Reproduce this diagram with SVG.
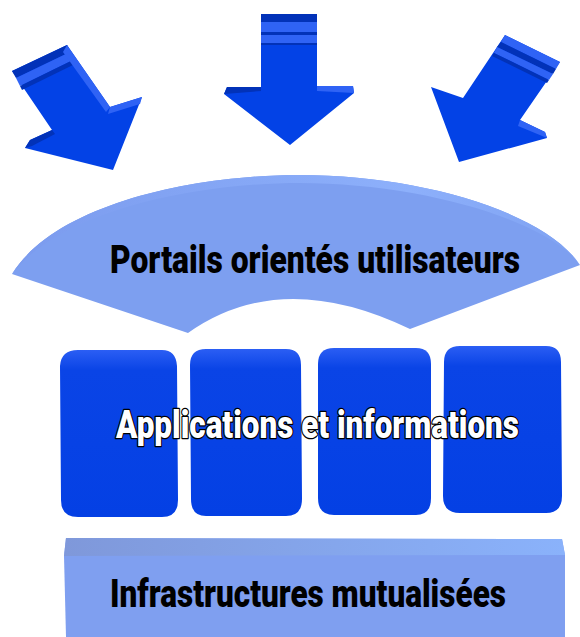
<svg xmlns="http://www.w3.org/2000/svg" width="580" height="637" viewBox="0 0 580 637">
<defs>
<style>
.arrow{fill:#0342e6}
.dark{fill:#0232b8}
.hi{fill:#2f63f5}
.block{fill:url(#blockGrad)}
.lbl{font-family:Roboto,"Liberation Sans",sans-serif;font-weight:900;font-size:38px}
.blk{fill:#000}
.wht{fill:#fff;stroke:#000;stroke-width:2.6px;paint-order:stroke;stroke-linejoin:round}
</style>
<linearGradient id="blockGrad" x1="0" y1="0" x2="0" y2="1">
<stop offset="0" stop-color="#2b5ef4"/>
<stop offset="0.12" stop-color="#0a44e6"/>
<stop offset="1" stop-color="#0440e4"/>
</linearGradient>
<linearGradient id="portalTop" x1="0" y1="0" x2="1" y2="0">
<stop offset="0" stop-color="#7b9bee"/>
<stop offset="0.7" stop-color="#8db0fb"/>
<stop offset="1" stop-color="#7fa2f2"/>
</linearGradient>
<linearGradient id="infraTop" x1="0" y1="0" x2="1" y2="0">
<stop offset="0" stop-color="#7f98da"/>
<stop offset="1" stop-color="#8ab2fb"/>
</linearGradient>
</defs>
<rect width="580" height="637" fill="#fff"/>

<g id="arrow-left">
<polygon class="arrow" points="12,71 67,45 110,107 142,97 113,170 25,148 30,140 52,130"/>
<polygon class="dark" points="12,71 67,45 70,52 16,78"/>
<polygon class="hi" points="16,78 70,52 73,60 20,86"/>
<polygon class="dark" points="20,86 73,60 75,64 22,90"/>
<polygon class="hi" points="67,45 110,107 106,112 63,52"/>
<polygon class="hi" points="110,107 142,97 140,104 108,114"/>
<polygon class="dark" points="25,148 30,140 52,130 55,134 32,146"/>
</g>

<g id="arrow-center">
<polygon class="arrow" points="261,14 317,14 317,86 353,86 354,93 290,145 224,94 227,87 261,87"/>
<rect class="dark" x="261" y="14" width="56" height="8"/>
<rect class="hi" x="261" y="22" width="56" height="10"/>
<rect class="dark" x="261" y="32" width="56" height="3"/>
<rect class="hi" x="261" y="35" width="56" height="8"/>
<rect class="dark" x="261" y="43" width="56" height="2"/>
<polygon class="dark" points="224,94 227,87 261,87 261,91"/>
<polygon class="hi" points="317,86 353,86 354,93 317,91"/>
</g>

<g id="arrow-right">
<polygon class="arrow" points="505,35 560,62 520,120 545,132 547,138 459,162 431,87 463,98"/>
<polygon class="hi" points="505,35 560,62 556,69 501,42"/>
<polygon class="dark" points="501,42 556,69 553,74 497,47"/>
<polygon class="hi" points="497,47 553,74 549,80 494,53"/>
<polygon class="dark" points="494,53 549,80 547,83 492,56"/>
<polygon class="hi" points="520,120 545,132 547,138 518,126"/>
</g>

<g id="portails">
<path d="M12,274 C55,205 190,175 300,175 C420,175 545,212 580,265 L410,329 Q281,267 188,333 Z" fill="#7d9ff0"/>
<path d="M12,274 C55,205 190,175 300,175 C420,175 545,212 580,265 C548,220 420,183 300,183 C190,183 60,212 12,274 Z" fill="url(#portalTop)"/>
<text class="lbl blk" transform="scale(0.7 1)" x="157.14" y="273" textLength="585.7" lengthAdjust="spacingAndGlyphs">Portails orientés utilisateurs</text>
</g>

<g id="applications">
<g id="app-1"><path class="block" d="M78,350 H162 Q176,350 177,366 L178,500 Q178,517 162,517 H78 Q61,517 61,500 L60,366 Q61,350 78,350 Z"/></g>
<g id="app-2"><path class="block" d="M206,349 H286 Q301,349 301,365 L302,499 Q302,516 286,516 H206 Q191,516 191,499 L190,365 Q190,349 206,349 Z"/></g>
<g id="app-3"><path class="block" d="M334,348 H416 Q431,348 431,364 L431,498 Q431,515 416,515 H334 Q318,515 318,498 L318,364 Q318,348 334,348 Z"/></g>
<g id="app-4"><path class="block" d="M460,346 H546 Q561,346 561,362 L562,496 Q562,513 546,513 H460 Q443,513 443,496 L444,362 Q444,346 460,346 Z"/></g>
<text class="lbl wht" transform="scale(0.7 1)" x="165.71" y="438" textLength="575.7" lengthAdjust="spacingAndGlyphs">Applications et informations</text>
</g>

<g id="infrastructures">
<path d="M66,538 L562,539 L565,555 L565,637 L66,637 L64,556 Z" fill="#7f9ff0"/>
<path d="M66,538 L562,539 L565,555 L64,556 Z" fill="url(#infraTop)"/>
<text class="lbl blk" transform="scale(0.7 1)" x="157.14" y="607" textLength="565.7" lengthAdjust="spacingAndGlyphs">Infrastructures mutualisées</text>
</g>
</svg>
